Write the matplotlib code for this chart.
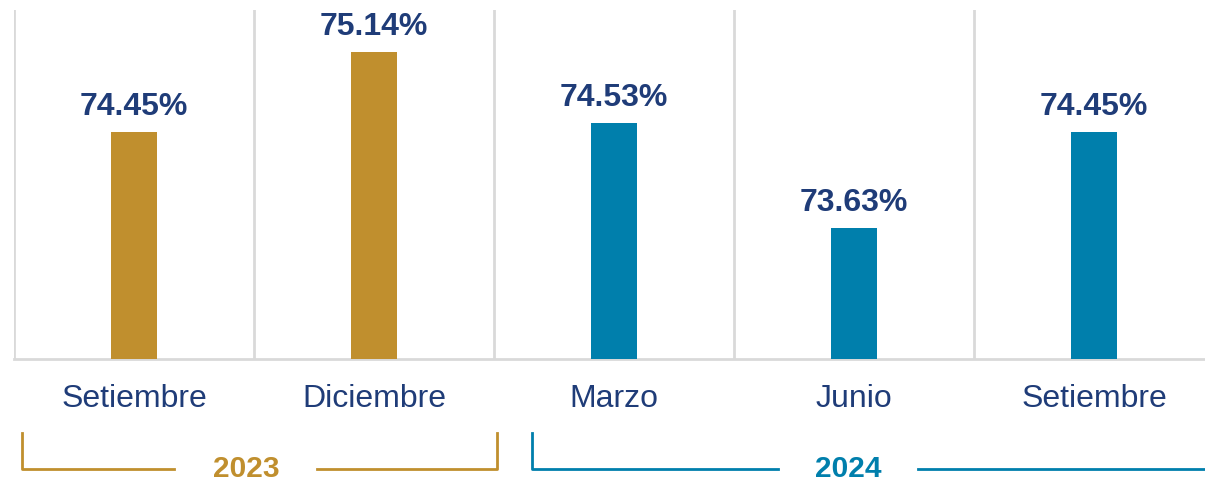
import matplotlib
matplotlib.use('Agg')
import matplotlib.pyplot as plt
from matplotlib.transforms import blended_transform_factory

plt.rcParams['font.family'] = ['Liberation Sans', 'DejaVu Sans']

months = ['Setiembre', 'Diciembre', 'Marzo', 'Junio', 'Setiembre']
values = [74.45, 75.14, 74.53, 73.63, 74.45]
years = ['2023', '2024']
year_of_bar = [0, 0, 1, 1, 1]

gold = '#C08F2E'
blue = '#007FAC'
navy = '#1F3C78'
grid = '#D9D9D9'
year_colors = [gold, blue]

W, H = 1205, 482
fig = plt.figure(figsize=(W / 100, H / 100), dpi=100)
ax = fig.add_axes([14 / W, (H - 359) / H, 1200 / W, 349 / H])

x = list(range(len(values)))
bars = ax.bar(x, values, width=0.19, bottom=0,
              color=[year_colors[i] for i in year_of_bar], zorder=3)
ax.set_xlim(-0.5, len(values) - 0.5)
ax.set_ylim(72.5, 75.5)

for b, v in zip(bars, values):
    ax.annotate('{:.2f}%'.format(v), xy=(b.get_x() + b.get_width() / 2, v),
                xytext=(0, 17), textcoords='offset pixels',
                ha='center', va='baseline', fontsize=23,
                fontweight='bold', color=navy)

# category separators
for i in range(len(values)):
    ax.axvline(i - 0.5, color=grid, lw=2, zorder=1)

for s in ['top', 'right', 'left']:
    ax.spines[s].set_visible(False)
ax.spines['bottom'].set_color(grid)
ax.spines['bottom'].set_linewidth(2)

ax.set_yticks([])
ax.set_xticks(x)
ax.set_xticklabels(months, fontsize=23, color=navy)
ax.tick_params(axis='x', length=0, pad=18)

# year brackets below the axis
tr = blended_transform_factory(ax.transData, fig.transFigure)
y_top = 1 - 433 / H
y_line = 1 - 469 / H
y_text = 1 - 477 / H

# 2023 bracket
ax.plot([-0.467, -0.467, 0.167], [y_top, y_line, y_line], color=gold,
        lw=2, transform=tr, clip_on=False)
ax.plot([0.763, 1.5125, 1.5125], [y_line, y_line, y_top], color=gold,
        lw=2, transform=tr, clip_on=False)
ax.text(0.467, y_text, years[0], transform=tr, ha='center', va='baseline',
        fontsize=21.5, fontweight='bold', color=gold)

# 2024 bracket
ax.plot([1.658, 1.658, 2.683], [y_top, y_line, y_line], color=blue,
        lw=2, transform=tr, clip_on=False)
ax.plot([3.267, 4.6], [y_line, y_line], color=blue,
        lw=2, transform=tr, clip_on=False)
ax.text(2.975, y_text, years[1], transform=tr, ha='center', va='baseline',
        fontsize=21.5, fontweight='bold', color=blue)

fig.savefig('out.png', dpi=100)
